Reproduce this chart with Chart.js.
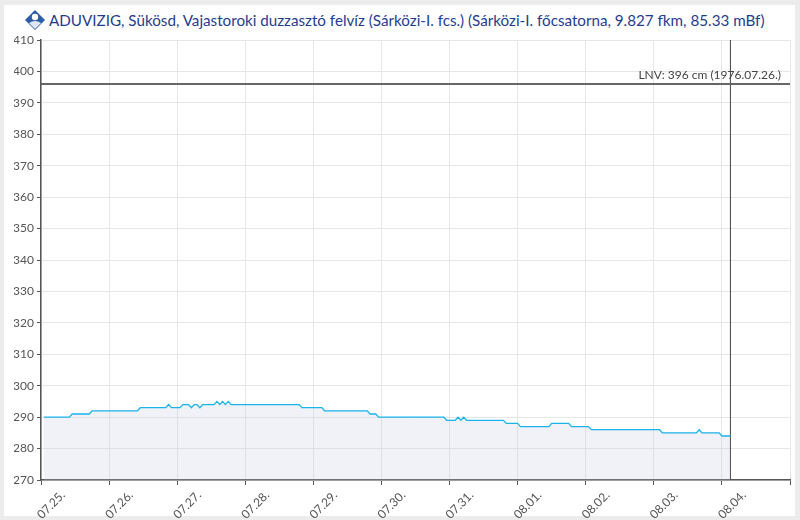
<!DOCTYPE html>
<html>
<head>
<meta charset="utf-8">
<script src="https://cdn.jsdelivr.net/npm/chart.js@4/dist/chart.umd.min.js"></script>
<style>
  html, body { margin: 0; padding: 0; background: #ececec; }
  body { width: 800px; height: 520px; position: relative; overflow: hidden; font-family: Lato, "Noto Sans", sans-serif; }
  #card { position: absolute; left: 4px; top: 5px; width: 791px; height: 511px; background: #fff; }
  #title { position: absolute; left: 25px; top: 9px; height: 22px; line-height: 22px; font-size: 15.2px; color: #1f3d8e; white-space: nowrap; }
  #title svg { vertical-align: -4px; margin-right: 4px; }
  #wrap { position: absolute; left: 0; top: 0; width: 800px; height: 520px; }
  #levelChart { display: block; width: 800px; height: 520px; }
</style>
</head>
<body>
<div id="card"></div>
<div id="title"><svg width="20" height="20" viewBox="0 0 20 20"><path d="M10 0 L20 10 L10 20 L0 10 Z" fill="#2d5ca8"/><circle cx="10" cy="7" r="3.2" fill="#fff"/><path d="M4 13 Q10 9 16 13 L10 19 Z" fill="#fff" opacity="0.85"/></svg>ADUVIZIG, Sükösd, Vajastoroki duzzasztó felvíz (Sárközi-I. fcs.) (Sárközi-I. főcsatorna, 9.827 fkm, 85.33 mBf)</div>
<div id="wrap"><canvas id="levelChart" width="800" height="520"></canvas></div>
<script>
// hours counted from 07.25. 00:00
const hours = [1, 10, 11, 17, 18, 34, 35, 44, 45, 46, 49, 50, 52, 53, 54, 55, 56, 57, 61, 62, 63, 64, 65, 66,
  67, 91, 92, 99, 100, 115, 116, 118, 119, 142, 143, 146, 147, 148, 149, 150, 163, 164, 168,
  169, 179, 180, 186, 187, 193, 194, 218, 219, 231, 232, 233, 239, 240, 243];
const levels = [290, 290, 291, 291, 292, 292, 293, 293, 294, 293, 293, 294, 294, 293, 294, 294, 293, 294, 294, 295, 294, 295, 294, 295,
  294, 294, 293, 293, 292, 292, 291, 291, 290, 290, 289, 289, 290, 289, 290, 289, 289, 288, 288,
  287, 287, 288, 288, 287, 287, 286, 286, 285, 285, 286, 285, 285, 284, 284];

const dayLabels = ['07.25.', '07.26.', '07.27.', '07.28.', '07.29.', '07.30.', '07.31.', '08.01.', '08.02.', '08.03.', '08.04.', ''];
const xMin = 0, xMax = 264;
const yMin = 270, yMax = 410;

const lnvValue = 396;
const lnvText = 'LNV: 396 cm (1976.07.26.)';
const nowHour = 243;

const levelPoints = hours.map((h, i) => ({ x: h, y: levels[i] }));

// label for the LNV line
const lnvLabel = {
    id: 'lnvLabel',
    beforeDatasetsDraw(chart) {
        const { ctx, chartArea, scales } = chart;
        const y = scales.y.getPixelForValue(lnvValue);
        ctx.save();
        ctx.font = '12px Lato, "Noto Sans", sans-serif';
        ctx.fillStyle = '#444';
        ctx.textAlign = 'right';
        ctx.textBaseline = 'bottom';
        ctx.fillText(lnvText, chartArea.right - 9, y - 3);
        ctx.restore();
    }
};

const ctx = document.getElementById('levelChart').getContext('2d');
new Chart(ctx, {
    type: 'line',
    data: {
        datasets: [
            {
                data: levelPoints,
                borderColor: '#1ab4ea',
                backgroundColor: 'rgba(200, 205, 225, 0.25)',
                borderWidth: 1.3,
                pointRadius: 0,
                fill: 'start',
                tension: 0,
            },
            {
                data: [{ x: xMin, y: lnvValue }, { x: xMax, y: lnvValue }],
                borderColor: '#666',
                borderWidth: 2,
                pointRadius: 0,
                fill: false,
            },
            {
                data: [{ x: nowHour, y: yMin }, { x: nowHour, y: yMax }],
                borderColor: '#444',
                borderWidth: 1,
                pointRadius: 0,
                fill: false,
            }
        ]
    },
    options: {
        responsive: false,
        animation: false,
        devicePixelRatio: 1,
        layout: { padding: { left: 14, right: 10, top: 40, bottom: 0 } },
        plugins: {
            legend: { display: false },
            tooltip: { enabled: false },
        },
        scales: {
            x: {
                type: 'linear',
                min: xMin,
                max: xMax,
                afterFit(scale) {
                    scale.height = 40;
                    scale.paddingRight = 0;
                },
                afterBuildTicks(scale) {
                    scale.ticks = dayLabels.map((_, i) => ({ value: i * 24 }));
                },
                ticks: {
                    autoSkip: false,
                    minRotation: 45,
                    maxRotation: 45,
                    padding: 3,
                    labelOffset: 22,
                    color: '#555',
                    font: { family: 'Lato, "Noto Sans", sans-serif', size: 12 },
                    callback: (v) => dayLabels[Math.round(v / 24)],
                },
                grid: { color: '#e6e6e6', tickColor: '#555', tickLength: 5 },
                border: { color: '#555', width: 1.5 },
            },
            y: {
                min: yMin,
                max: yMax,
                afterFit(scale) { scale.width = 27; },
                ticks: {
                    stepSize: 10,
                    padding: 3,
                    color: '#555',
                    font: { family: 'Lato, "Noto Sans", sans-serif', size: 12 },
                },
                grid: { color: '#e6e6e6', tickColor: '#555', tickLength: 4 },
                border: { color: '#555', width: 1.5 },
            },
        },
    },
    plugins: [lnvLabel],
});
</script>
</body>
</html>
